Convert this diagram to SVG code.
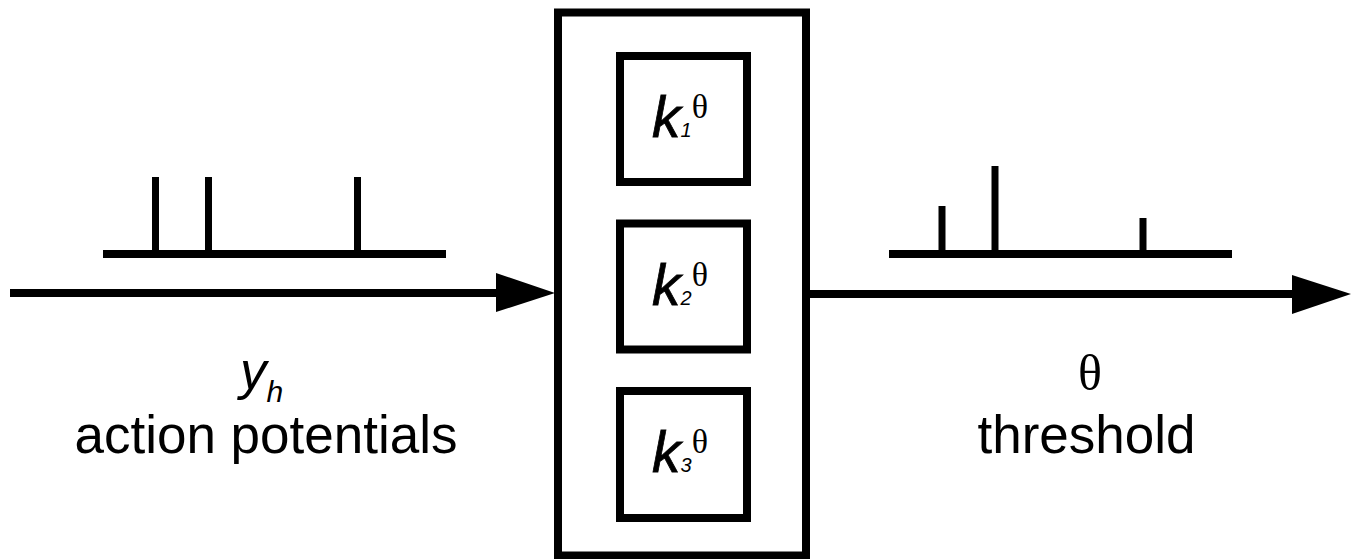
<svg xmlns="http://www.w3.org/2000/svg" width="1360" height="559" viewBox="0 0 1360 559">
<style>
.box{fill:none;stroke:#000;stroke-width:8}
.ln{stroke:#000;stroke-width:8;fill:none}
.sp{stroke:#000;stroke-width:7;fill:none}
.it{font-family:"Liberation Sans",Arial,sans-serif;font-style:italic;fill:#000}
.kk{font-family:"Liberation Sans",Arial,sans-serif;font-style:italic;fill:#000;stroke:#000;stroke-width:0.8}
.rg{font-family:"Liberation Sans",Arial,sans-serif;fill:#000}
.th{font-family:"Liberation Serif","Times New Roman",serif;fill:#000}
</style>
<rect width="1360" height="559" fill="#fff"/>
<g id="connectors">
<line class="ln" x1="10" y1="293" x2="500" y2="293"/>
<polygon points="496,273 555,293 496,312" fill="#000"/>
<line class="ln" x1="806" y1="294" x2="1296" y2="294"/>
<polygon points="1292,275 1351,294 1292,314" fill="#000"/>
</g>
<g id="input-spikes">
<line class="ln" x1="103" y1="254" x2="446" y2="254"/>
<line class="sp" x1="155.5" y1="177" x2="155.5" y2="254"/>
<line class="sp" x1="208.5" y1="177" x2="208.5" y2="254"/>
<line class="sp" x1="357.5" y1="177" x2="357.5" y2="254"/>
</g>
<g id="output-spikes">
<line class="ln" x1="889" y1="254" x2="1232" y2="254"/>
<line class="sp" x1="942" y1="206" x2="942" y2="254"/>
<line class="sp" x1="995" y1="166" x2="995" y2="254"/>
<line class="sp" x1="1143" y1="218" x2="1143" y2="254"/>
</g>
<g id="processor">
<rect class="box" x="558" y="12.5" width="248" height="543"/>
</g>
<g id="k1">
<rect class="box" x="620" y="56" width="127" height="126"/>
<text x="652" y="137"><tspan class="kk" font-size="57">k</tspan><tspan class="it" font-size="20">1</tspan><tspan class="th" font-size="34" dy="-19">θ</tspan></text>
</g>
<g id="k2">
<rect class="box" x="620" y="223.5" width="127" height="126"/>
<text x="652" y="304.5"><tspan class="kk" font-size="57">k</tspan><tspan class="it" font-size="20">2</tspan><tspan class="th" font-size="34" dy="-19">θ</tspan></text>
</g>
<g id="k3">
<rect class="box" x="620" y="391" width="127" height="127"/>
<text x="652" y="472"><tspan class="kk" font-size="57">k</tspan><tspan class="it" font-size="20">3</tspan><tspan class="th" font-size="34" dy="-19">θ</tspan></text>
</g>
<g id="input-label">
<text x="240" y="389"><tspan class="it" font-size="53">y</tspan><tspan class="it" font-size="30" dy="13">h</tspan></text>
<text class="rg" x="266" y="453" font-size="53" text-anchor="middle">action potentials</text>
</g>
<g id="output-label">
<text class="th" x="1090" y="390" font-size="50" text-anchor="middle">θ</text>
<text class="rg" x="1086.5" y="453" font-size="53" text-anchor="middle">threshold</text>
</g>
</svg>
